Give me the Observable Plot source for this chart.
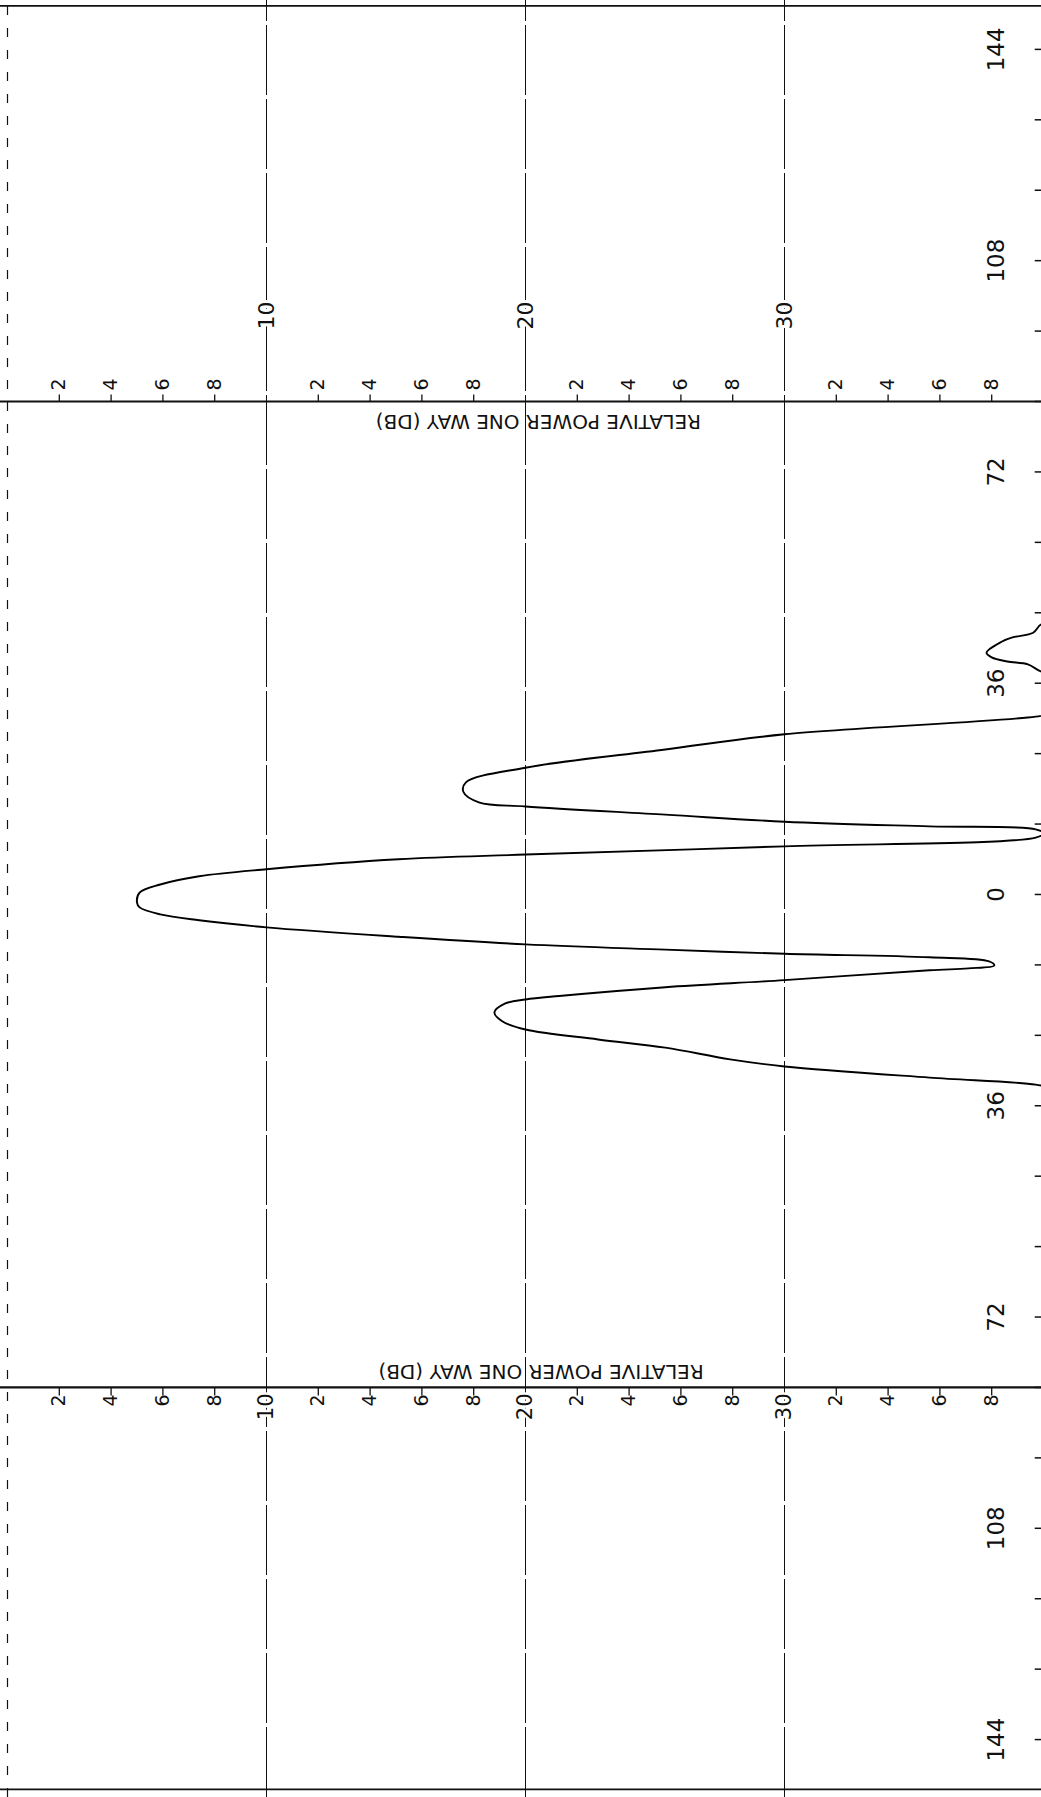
<!DOCTYPE html>
<html>
<head>
<meta charset="utf-8">
<script src="https://cdn.jsdelivr.net/npm/d3@7"></script>
<script src="https://cdn.jsdelivr.net/npm/@observablehq/plot@0.6"></script>
<style>
  html, body { margin: 0; padding: 0; background: #fff; }
  #wrap { position: relative; width: 1041px; height: 1797px; overflow: hidden; background: #fff; }
  #wrap svg { position: absolute; left: 0; top: 0; transform-origin: 0 0; transform: translate(0px, 1797px) rotate(-90deg); max-width: none !important; }
</style>
</head>
<body>
<div id="wrap"></div>
<script>
// ---- data (angle in degrees, relative power in dB down) ----
const lobeAngles = [46.6, 46.0, 44.6, 43.8, 43.1, 41.2, 40.4, 39.7, 39.2, 38.0, 37.4];
const lobeDb     = [40.5, 39.9, 39.6, 38.8, 38.4, 37.8, 38.0, 38.6, 39.4, 39.9, 40.5];

const mainAngles = [31.0, 30.3, 27.3, 24.7, 21.6, 19.1, 17.5, 15.7, 15.0, 13.6, 12.4, 11.6, 11.1, 10.4, 9.7,
                    8.2, 6.8, 6.0, 4.3, 3.1, 1.7, 0.3, -1.4, -2.2, -3.4, -4.4, -5.6, -7.2, -8.5, -9.4, -10.1,
                    -10.7, -11.4, -12.1, -12.6, -12.9, -14.6, -15.8, -17.3, -17.9, -18.6, -20.1, -21.6, -23.0,
                    -24.7, -26.1, -28.1, -29.3, -31.2, -32.4, -33.2];
const mainDb     = [40.5, 39.7, 30.0, 25.4, 20.0, 17.7, 17.6, 18.2, 20.0, 25.4, 30.0, 35.6, 39.7, 40.0, 39.7,
                    30.0, 20.0, 15.1, 10.0, 7.4, 5.9, 5.1, 5.0, 5.1, 5.9, 7.4, 10.0, 15.1, 20.0, 25.4, 30.0,
                    35.6, 37.9, 38.1, 37.1, 35.6, 30.0, 25.4, 21.3, 20.0, 19.2, 18.8, 19.1, 20.0,
                    22.8, 25.4, 27.9, 30.0, 35.6, 39.7, 40.5];

const angleTicks  = [-144, -132, -120, -108, -96, -84, -72, -60, -48, -36, -24, -12, 0, 12, 24, 36, 48, 60, 72, 84, 96, 108, 120, 132, 144];
const angleLabels = [-144, -108, -72, -36, 0, 36, 72, 108, 144];
const dbGrid      = [10, 20, 30];
const dbMinor     = [2, 4, 6, 8, 12, 14, 16, 18, 22, 24, 26, 28, 32, 34, 36, 38];
const axisAngles  = [-84, 84];
const frameAngles = [-152.5, 151.4];
const axisTitle   = "RELATIVE POWER ONE WAY (DB)";

// ---- build rows ----
const curve = [
  ...lobeAngles.map((a, i) => ({angle: a, db: lobeDb[i], seg: "lobe"})),
  ...mainAngles.map((a, i) => ({angle: a, db: mainDb[i], seg: "main"}))
];

const font = "DejaVu Sans, Liberation Sans, sans-serif";
const ink = "#111";

const chart = Plot.plot({
  width: 1797,
  height: 1041,
  marginTop: 0, marginBottom: 0, marginLeft: 0, marginRight: 0,
  x: {domain: [-153.7, 152.5], range: [0, 1797], axis: null},
  y: {domain: [0, 40], range: [7, 1043], axis: null},
  style: {fontFamily: font, background: "#fff", maxWidth: "none", overflow: "hidden"},
  marks: [
    // 0 dB border (dashed)
    Plot.ruleY([0], {stroke: ink, strokeWidth: 1.2, strokeDasharray: "9,13"}),
    // grid lines at 10/20/30 dB
    Plot.ruleY(dbGrid, {stroke: ink, strokeWidth: 1, strokeDasharray: "70,4"}),
    // frame edges at the ends of the angle range
    Plot.ruleX(frameAngles, {stroke: ink, strokeWidth: 1.8}),
    // dB axis lines
    Plot.ruleX(axisAngles, {stroke: ink, strokeWidth: 2.2}),
    // minor ticks on the +84 axis (pointing outward = right)
    Plot.ruleY(dbMinor, {y: d => d, x1: 84, x2: 85.3, stroke: ink, strokeWidth: 1.3}),
    // minor ticks on the -84 axis (pointing left)
    Plot.ruleY(dbMinor, {y: d => d, x1: -85.3, x2: -84, stroke: ink, strokeWidth: 1.3}),
    // labels on +84 axis
    Plot.text(dbMinor, {x: 84, y: d => d, text: d => String(d % 10), dx: 11, textAnchor: "start", fontSize: 19, fill: ink}),
    Plot.text(dbGrid, {x: 84, y: d => d, text: d => String(d), dx: 72, textAnchor: "start", fontSize: 22, fill: ink, stroke: "#fff", strokeWidth: 6, paintOrder: "stroke"}),
    // labels on -84 axis
    Plot.text(dbMinor, {x: -84, y: d => d, text: d => String(d % 10), dx: -7, textAnchor: "end", fontSize: 19, fill: ink}),
    Plot.text(dbGrid, {x: -84, y: d => d, text: d => String(d), dx: -6, textAnchor: "end", fontSize: 21, fill: ink, stroke: "#fff", strokeWidth: 5, paintOrder: "stroke"}),
    // axis titles
    Plot.text([axisTitle], {x: 84, y: 20.5, text: d => d, rotate: -90, dx: -20, fontSize: 20, fill: ink, letterSpacing: "2.8px"}),
    Plot.text([axisTitle], {x: -84, y: 20.6, text: d => d, rotate: -90, dx: 16, fontSize: 20, fill: ink, letterSpacing: "2.8px"}),
    // angle ticks and labels along the 40 dB edge
    Plot.ruleX(angleTicks, {x: d => d, y1: 39.68, y2: 40, stroke: ink, strokeWidth: 1.5}),
    Plot.text(angleLabels, {x: d => d, y: 40, text: d => String(Math.abs(d)), dy: -47, fontSize: 23, fill: ink}),
    // the antenna pattern trace
    Plot.line(curve, {x: "angle", y: "db", z: "seg", stroke: "#000", strokeWidth: 1.9, curve: "catmull-rom", clip: true})
  ]
});

chart.style.maxWidth = "none";
chart.style.width = "1797px";
chart.style.height = "1041px";
document.getElementById("wrap").appendChild(chart);
</script>
</body>
</html>
